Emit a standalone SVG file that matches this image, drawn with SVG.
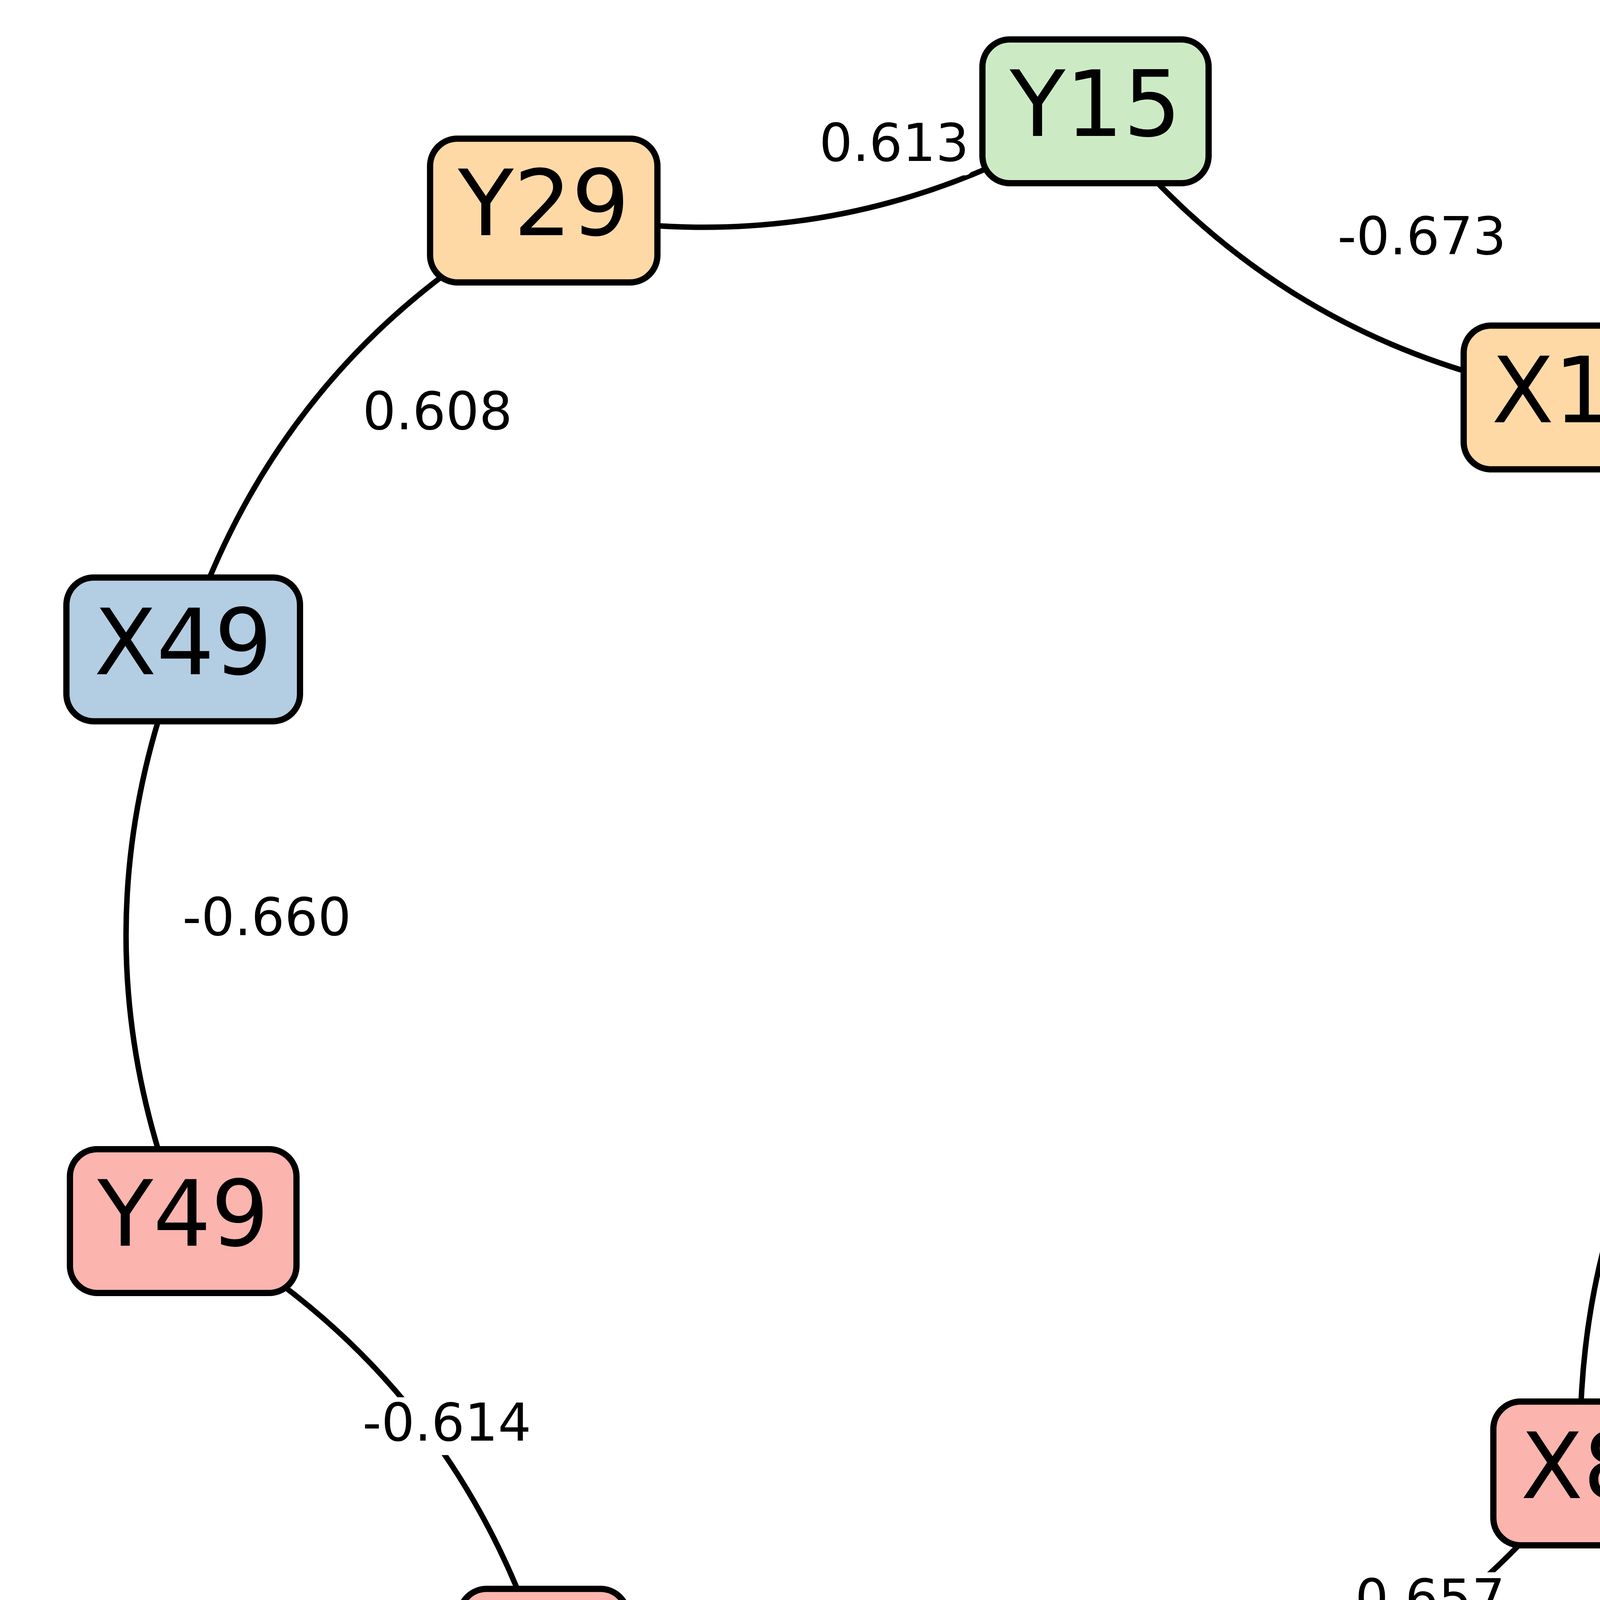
<svg xmlns="http://www.w3.org/2000/svg" width="5039" height="4916" viewBox="0 0 5039 4916">
<style>
.edge{fill:none;stroke:#000;stroke-width:14}
.node rect{stroke:#000;stroke-width:16}
.node text{font-family:"DejaVu Sans","Liberation Sans",sans-serif;font-size:233px;text-anchor:middle;fill:#000}
.lbl rect{fill:#fff;stroke:none}
.lbl text{font-family:"DejaVu Sans","Liberation Sans",sans-serif;font-size:134px;text-anchor:middle;fill:#000}
.red{fill:#fbb4ae}.blue{fill:#b3cde3}.green{fill:#ccebc5}.orange{fill:#fed9a6}
</style>
<rect x="0" y="0" width="5039" height="4916" fill="#fff"/>
<g id="edges">
<path class="edge" d="M1392,539 Q2149,694.5 2804.5,285"/>
<path class="edge" d="M2804.5,285 Q3279,899.4 4046.5,1017.5"/>
<path class="edge" d="M4046.5,1017.5 Q4567.4,1607.7 4538,2394.5"/>
<path class="edge" d="M4538,2394.5 Q4017,2984.8 4047,3772"/>
<path class="edge" d="M4047,3772 Q3572.6,4387.5 2804.5,4506"/>
<path class="edge" d="M2804.5,4506 Q2047,4661.4 1391.5,4251.5"/>
<path class="edge" d="M1391.5,4251.5 Q1155.4,3504.25 469,3126"/>
<path class="edge" d="M469,3126 Q176.3,2394 469,1662.5"/>
<path class="edge" d="M469,1662.5 Q705.8,916.2 1392,539"/>
</g>
<g id="nodes">
<g id="Y15" class="node"><rect class="green" x="2515" y="101" width="579" height="368" rx="70"/><text x="2804.5" y="348">Y15</text></g>
<g id="Y29" class="node"><rect class="orange" x="1101" y="355" width="582" height="368" rx="70"/><text x="1392" y="602">Y29</text></g>
<g id="X15" class="node"><rect class="orange" x="3747" y="833.5" width="599" height="368" rx="70"/><text x="4046.5" y="1080.5">X15</text></g>
<g id="X49" class="node"><rect class="blue" x="170" y="1478.5" width="598" height="368" rx="70"/><text x="469" y="1725.5">X49</text></g>
<g id="X35" class="node"><rect class="green" x="4239" y="2210.5" width="598" height="368" rx="70"/><text x="4538" y="2457.5">X35</text></g>
<g id="Y49" class="node"><rect class="red" x="179" y="2942" width="580" height="368" rx="70"/><text x="469" y="3189">Y49</text></g>
<g id="X8" class="node"><rect class="red" x="3823" y="3588" width="448" height="368" rx="70"/><text x="4047" y="3835">X8</text></g>
<g id="Y1" class="node"><rect class="red" x="1176" y="4067.5" width="431" height="368" rx="70"/><text x="1391.5" y="4314.5">Y1</text></g>
<g id="X42" class="node"><rect class="red" x="2506" y="4322" width="597" height="368" rx="70"/><text x="2804.5" y="4569">X42</text></g>
</g>
<g id="edge-labels">
<g class="lbl"><rect x="2089" y="300" width="400" height="149" rx="20"/><text x="2289" y="412">0.613</text></g>
<g class="lbl"><rect x="3411" y="538" width="458" height="150" rx="20"/><text x="3640" y="651">-0.673</text></g>
<g class="lbl"><rect x="918" y="984" width="404" height="152" rx="20"/><text x="1120" y="1099">0.608</text></g>
<g class="lbl"><rect x="4279" y="1593" width="452" height="147" rx="20"/><text x="4505" y="1703">-0.580</text></g>
<g class="lbl"><rect x="457" y="2281" width="452" height="150" rx="20"/><text x="683" y="2394">-0.660</text></g>
<g class="lbl"><rect x="4279" y="2972" width="452" height="148" rx="20"/><text x="4505" y="3083">-0.622</text></g>
<g class="lbl"><rect x="915" y="3577" width="458" height="148" rx="20"/><text x="1144" y="3688">-0.614</text></g>
<g class="lbl"><rect x="3411" y="4025" width="452" height="150" rx="20"/><text x="3637" y="4138">-0.657</text></g>
<g class="lbl"><rect x="2089" y="4264" width="400" height="149" rx="20"/><text x="2289" y="4376">0.585</text></g>
</g>
</svg>
